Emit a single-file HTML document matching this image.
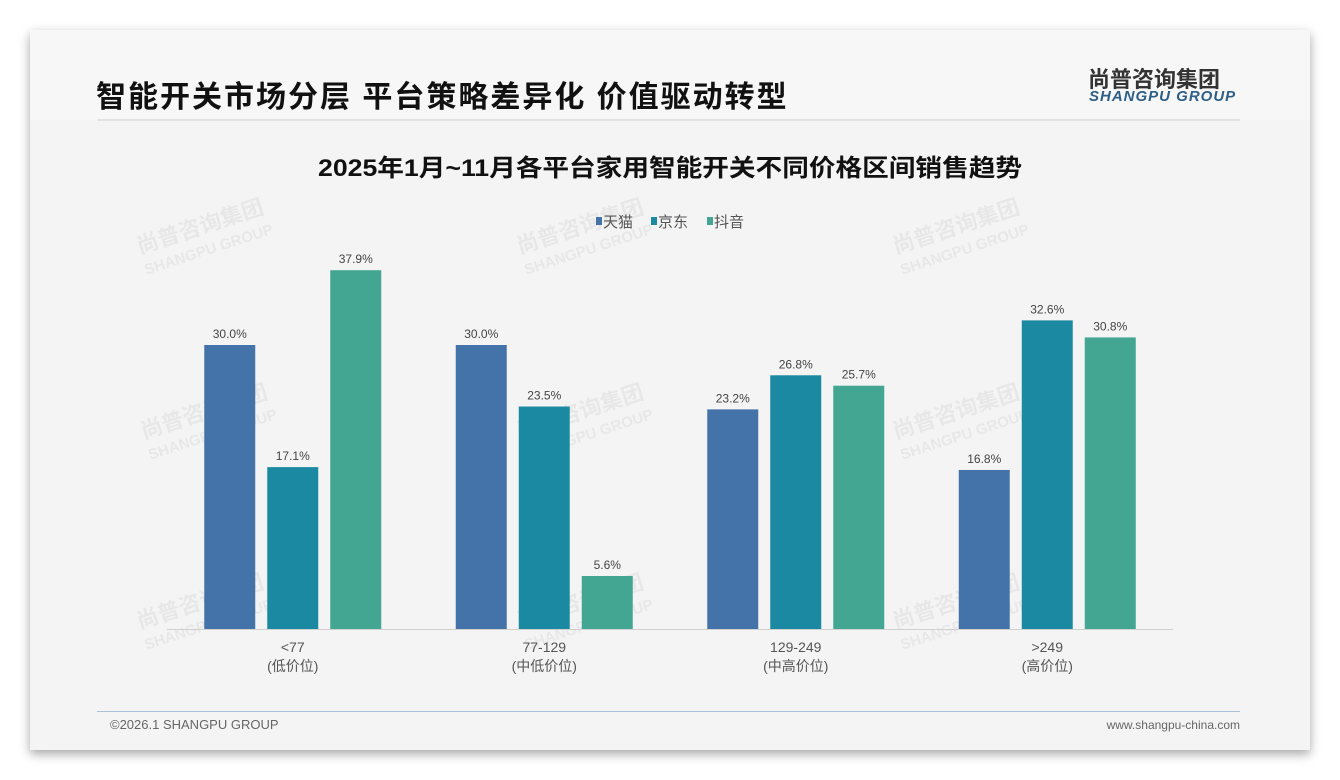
<!DOCTYPE html>
<html><head><meta charset="utf-8"><style>
body{margin:0;width:1340px;height:780px;background:#fff;font-family:"Liberation Sans","Noto Sans CJK SC",sans-serif;position:relative;overflow:hidden}
#card{position:absolute;left:30px;top:30px;width:1280px;height:720px;background:#f4f4f4;box-shadow:0 4px 10px rgba(0,0,0,.35)}
.t{position:absolute;white-space:nowrap}
.wm{position:absolute;color:rgba(0,0,0,0.05);font-weight:bold;transform:rotate(-18deg);font-size:22px;line-height:22px}
</style></head><body>
<div id="card">
<div style="position:absolute;left:0;top:0;width:1280px;height:90px;background:#f7f7f7"></div>
<div class="t" style="left:66px;top:42px;font-size:30px;font-weight:bold;color:#111;letter-spacing:2px">智能开关市场分层 平台策略差异化 价值驱动转型</div>
<div class="t" style="left:1058px;top:32px;font-size:22px;font-weight:bold;color:#333">尚普咨询集团</div>
<div class="t" style="left:1059px;top:58px;font-size:15px;font-weight:bold;font-style:italic;color:#2d5f86;letter-spacing:1px">SHANGPU GROUP</div>
<div style="position:absolute;left:67px;top:89px;width:1143px;height:2px;background:#e2e2e2"></div>
<div class="wm" style="left:108px;top:185px">尚普咨询集团<br><span style="font-size:15px">SHANGPU GROUP</span></div>
<div class="wm" style="left:488px;top:185px">尚普咨询集团<br><span style="font-size:15px">SHANGPU GROUP</span></div>
<div class="wm" style="left:864px;top:185px">尚普咨询集团<br><span style="font-size:15px">SHANGPU GROUP</span></div>
<div class="wm" style="left:112px;top:370px">尚普咨询集团<br><span style="font-size:15px">SHANGPU GROUP</span></div>
<div class="wm" style="left:488px;top:370px">尚普咨询集团<br><span style="font-size:15px">SHANGPU GROUP</span></div>
<div class="wm" style="left:864px;top:370px">尚普咨询集团<br><span style="font-size:15px">SHANGPU GROUP</span></div>
<div class="wm" style="left:108px;top:560px">尚普咨询集团<br><span style="font-size:15px">SHANGPU GROUP</span></div>
<div class="wm" style="left:488px;top:560px">尚普咨询集团<br><span style="font-size:15px">SHANGPU GROUP</span></div>
<div class="wm" style="left:864px;top:560px">尚普咨询集团<br><span style="font-size:15px">SHANGPU GROUP</span></div>
<div style="position:absolute;left:67px;top:681px;width:1143px;height:1px;background:#aac0d8"></div>
<div class="t" style="left:80px;top:687px;font-size:13px;color:#666">©2026.1 SHANGPU GROUP</div>
<div class="t" style="right:70px;top:688px;font-size:12px;color:#666">www.shangpu-china.com</div>
</div>
<svg id="chart" width="1340" height="780" style="position:absolute;left:0;top:0">
<text x="318" y="176" textLength="704" lengthAdjust="spacingAndGlyphs" font-size="24" font-weight="bold" fill="#111">2025年1月~11月各平台家用智能开关不同价格区间销售趋势</text>
<g id="legend"></g><g id="bars"></g><g id="axis"></g>
</svg>
<script>
const categories=["<77","77-129","129-249",">249"];
const subLabels=["(低价位)","(中低价位)","(中高价位)","(高价位)"];
const seriesNames=["天猫","京东","抖音"];
const tmall=[30.0,30.0,23.2,16.8];
const jd=[17.1,23.5,26.8,32.6];
const douyin=[37.9,5.6,25.7,30.8];
const series=[tmall,jd,douyin];
const colors=["#4473a9","#1a89a1","#42a692"];
const NS="http://www.w3.org/2000/svg";
const x0=167,x1=1173,base=629,pxPer=284/30;
const bw=(x1-x0)/categories.length;
const xC=i=>x0+bw*(i+0.5);
const yS=v=>base-v*pxPer;
function mk(t,a,p){const e=document.createElementNS(NS,t);for(const k in a)e.setAttribute(k,a[k]);p.appendChild(e);return e;}
const bars=document.getElementById('bars'),axis=document.getElementById('axis'),leg=document.getElementById('legend');
series.forEach((s,si)=>{s.forEach((v,i)=>{
 const cx=xC(i)+(si-1)*63;
 const r=mk('rect',{x:cx-25.5,y:yS(v),width:51,height:base-yS(v),fill:colors[si]},bars);
 
 
 const t=mk('text',{x:cx,y:yS(v)-7,'text-anchor':'middle','font-size':12,fill:'#444'},bars);
 t.textContent=v.toFixed(1)+'%';
 
 
});});
const ln=mk('line',{x1:x0,x2:x1,y1:base+0.5,y2:base+0.5,stroke:'#d0d0d0','stroke-width':1},axis);


categories.forEach((c,i)=>{
 const t=mk('text',{x:xC(i),y:652,'text-anchor':'middle','font-size':14,fill:'#555'},axis);t.textContent=c;
 
 
 const t2=mk('text',{x:xC(i),y:671,'text-anchor':'middle','font-size':14,fill:'#555'},axis);t2.textContent=subLabels[i];
 
 
});
const lx=[596,651,707];
seriesNames.forEach((n,i)=>{
 const r=mk('rect',{x:lx[i],y:217,width:6,height:8,fill:colors[i]},leg);
 
 
 const t=mk('text',{x:lx[i]+7,y:227,'font-size':15,fill:'#555'},leg);t.textContent=n;
 
 
});
</script>
</body></html>
